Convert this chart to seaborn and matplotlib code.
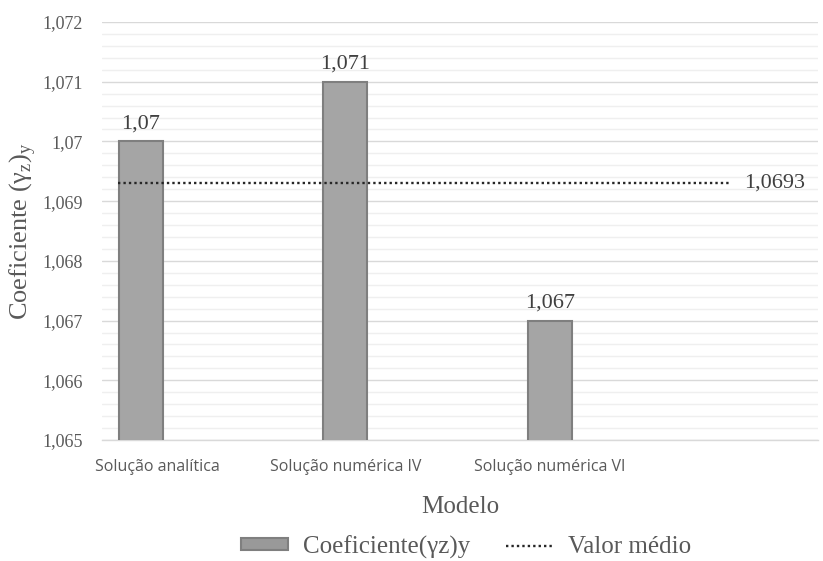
import matplotlib
matplotlib.use("Agg")
import matplotlib.pyplot as plt
from matplotlib.patches import Patch
from matplotlib.lines import Line2D
from matplotlib.ticker import MultipleLocator, FuncFormatter, FixedLocator
from matplotlib.transforms import ScaledTranslation
import pandas as pd
import seaborn as sns

# Chart data
modelos = ["Solução analítica", "Solução numérica IV", "Solução numérica VI"]
coeficientes = [1.070, 1.071, 1.067]
valor_medio = 1.0693
rotulos_barras = ["1,07", "1,071", "1,067"]
rotulo_medio = "1,0693"

df = pd.DataFrame({"Modelo": modelos, "Coeficiente": coeficientes})

sns.set_theme(style="white")
plt.rcParams["font.family"] = ["Liberation Serif", "DejaVu Serif"]
plt.rcParams["mathtext.fontset"] = "custom"
plt.rcParams["mathtext.rm"] = "Liberation Serif"

SERIF = ["Liberation Serif", "DejaVu Serif"]
SANS = ["Open Sans", "DejaVu Sans"]
TXT = "#595959"

fig = plt.figure(figsize=(8.23, 5.61), dpi=100)
ax = fig.add_axes([101.7 / 823, 1 - 440 / 561, (818 - 101.7) / 823, (440 - 22) / 561])

sns.barplot(data=df, x="Modelo", y="Coeficiente", order=modelos, ax=ax,
            color="#a5a5a5", saturation=1, width=0.215,
            edgecolor="#7f7f7f", linewidth=1.5, zorder=3)

ax.set_xlim(-0.19, 3.31)
ax.set_ylim(1.065, 1.072)

# gridlines
ax.yaxis.set_major_locator(MultipleLocator(0.001))
ax.yaxis.set_minor_locator(MultipleLocator(0.0002))
ax.grid(axis="y", which="major", color="#d9d9d9", linewidth=1.0, zorder=0)
ax.grid(axis="y", which="minor", color="#efefef", linewidth=1.0, zorder=0)
ax.set_axisbelow(True)

def fmt(v, pos):
    s = f"{v:.3f}".rstrip("0").rstrip(".")
    return s.replace(".", ",")

ax.yaxis.set_major_formatter(FuncFormatter(fmt))
ax.tick_params(axis="y", which="both", length=0, pad=13.5, labelsize=13, labelcolor=TXT)
for lab in ax.get_yticklabels():
    lab.set_fontfamily(SERIF)

# category ticks and separators
ax.tick_params(axis="x", which="major", length=0, pad=14, labelsize=11.5, labelcolor=TXT)
ax.xaxis.set_minor_locator(FixedLocator([-0.19, 0.39, 1.397, 2.396]))
ax.tick_params(axis="x", which="minor", length=5, width=1, color="#d9d9d9")
for lab in ax.get_xticklabels():
    lab.set_fontfamily(SANS)
first = ax.get_xticklabels()[0]
first.set_transform(first.get_transform() + ScaledTranslation(0.17, 0, fig.dpi_scale_trans))

for side in ["left", "right", "top"]:
    ax.spines[side].set_visible(False)
ax.spines["bottom"].set_color("#d9d9d9")
ax.spines["bottom"].set_linewidth(1.0)

# bar value labels
for i, (v, t) in enumerate(zip(coeficientes, rotulos_barras)):
    ax.annotate(t, (i, v), xytext=(0, 6), textcoords="offset points",
                ha="center", va="bottom", fontsize=16, color="#404040", family=SERIF)

# mean line
ax.hlines(valor_medio, -0.11, 2.88, colors="#262626", linestyles=(0, (1, 1.3)),
          linewidth=1.7, zorder=4)
ax.text(3.1, valor_medio, rotulo_medio, ha="center", va="center",
        fontsize=16, color="#404040", family=SERIF)

ax.set_xlabel("Modelo", fontsize=18, color=TXT, family=SERIF, labelpad=15)
ax.set_ylabel(r"Coeficiente (γ$_\mathregular{z}$)$_\mathregular{y}$", fontsize=19,
              color=TXT, family=SERIF, labelpad=3)

handles = [Patch(facecolor="#999999", edgecolor="#7f7f7f", linewidth=1.5),
           Line2D([0], [0], color="#262626", linestyle=(0, (1, 1.3)), linewidth=1.7)]
leg = fig.legend(handles, ["Coeficiente(γz)y", "Valor médio"], loc="center",
                 bbox_to_anchor=(466 / 823, 1 - 547 / 561), ncol=2, frameon=False,
                 fontsize=18, handlelength=1.9, handleheight=0.36, columnspacing=1.4,
                 handletextpad=0.6)
for t in leg.get_texts():
    t.set_color(TXT)
    t.set_fontfamily(SERIF)

fig.savefig("out.png", dpi=100)
